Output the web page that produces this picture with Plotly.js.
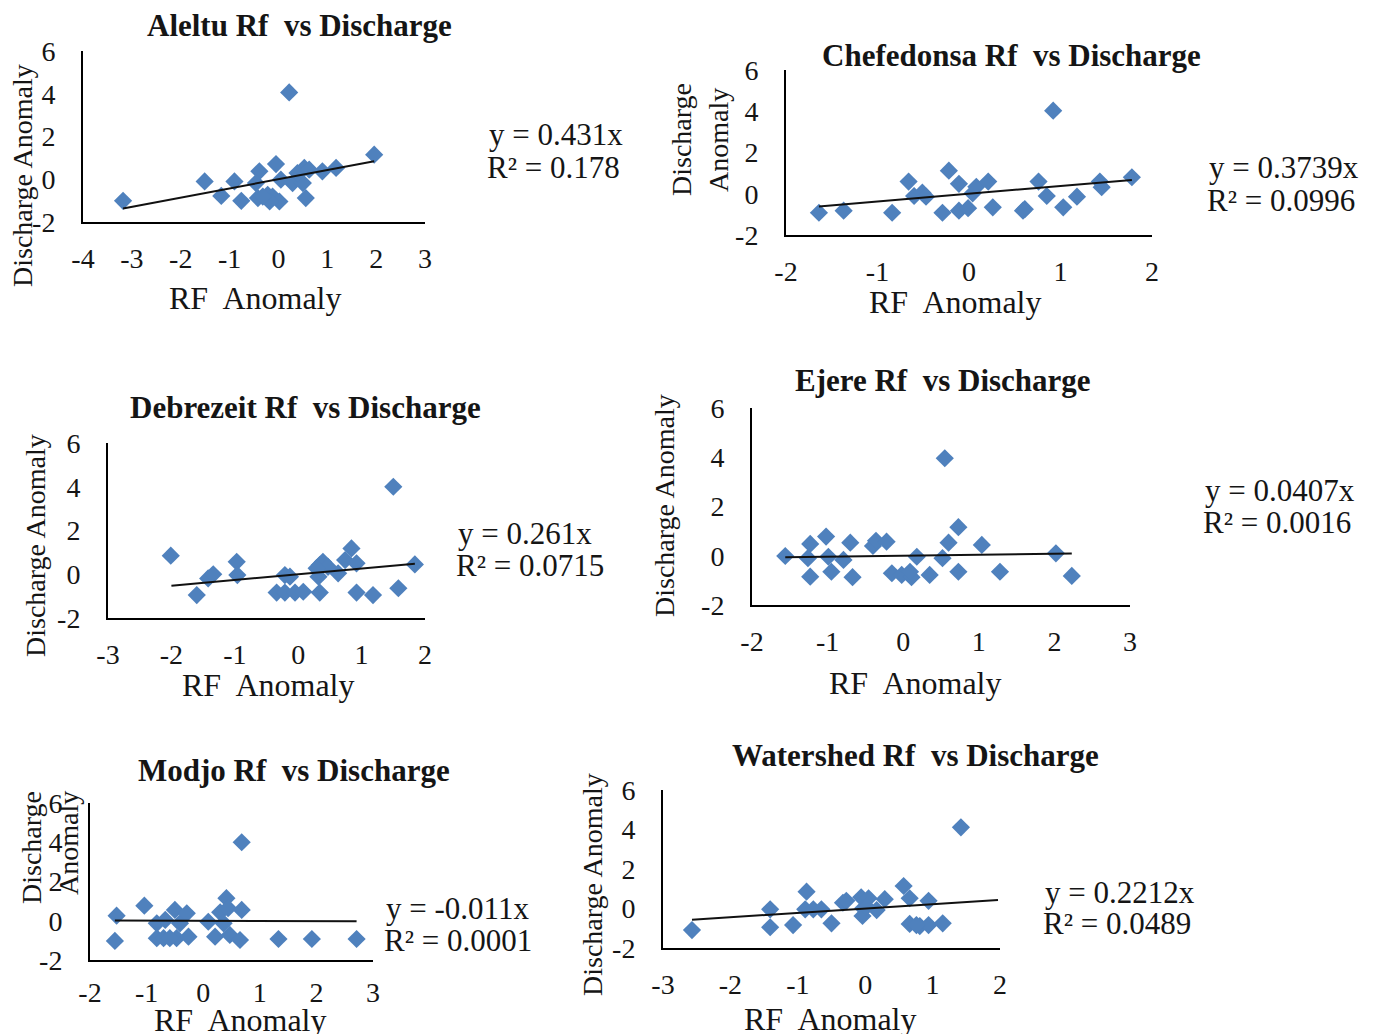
<!DOCTYPE html>
<html>
<head>
<meta charset="utf-8">
<script src="https://cdn.plot.ly/plotly-3.0.1.min.js"></script>
<style>html,body{margin:0;padding:0;background:#fff;}#chart{width:1384px;height:1034px;}</style>
</head>
<body>
<div id="chart"></div>
<script>
// ---- Data ----
var stationNames = ["Aleltu", "Chefedonsa", "Debrezeit", "Ejere", "Modjo", "Watershed"];

var aleltuX = [0.22, 1.96, -3.18, -1.51, -0.90, -1.17, -0.76, -0.39, -0.46, -0.05, -0.42, -0.22, -0.12, 0.02, 0.05, 0.29, 0.53, 0.50, 0.56, 0.39, 0.90, 1.18, -0.18, -0.32, 0.63];
var aleltuY = [4.06, 1.15, -1.01, -0.10, -0.10, -0.78, -1.01, 0.37, -0.18, 0.71, -0.88, -0.73, -0.81, -1.04, -0.02, -0.18, 0.53, -0.18, -0.88, 0.29, 0.37, 0.53, -1.04, -0.81, 0.45];

var chefX = [0.92, 1.78, -1.64, -1.37, -0.84, -0.66, -0.60, -0.51, -0.47, -0.22, -0.29, -0.11, -0.11, -0.01, 0.04, 0.08, 0.21, 0.26, 0.61, 0.76, 0.85, 1.03, 1.18, 1.43, 1.45, 0.59];
var chefY = [4.03, 0.80, -0.92, -0.82, -0.92, 0.59, -0.11, 0.05, -0.14, 1.12, -0.92, 0.48, -0.82, -0.70, 0.02, 0.34, 0.59, -0.66, -0.75, 0.59, -0.11, -0.66, -0.14, 0.59, 0.32, -0.82];

var debX = [1.50, 1.84, -2.01, -1.60, -1.42, -1.34, -0.97, -0.96, -0.34, -0.21, -0.13, -0.21, -0.05, 0.08, 0.34, 0.32, 0.34, 0.39, 0.47, 0.63, 0.74, 0.84, 0.92, 0.92, 1.18, 1.58, 0.29];
var debY = [4.0, 0.45, 0.85, -0.95, -0.19, 0.0, 0.57, -0.04, -0.84, -0.04, -0.11, -0.84, -0.84, -0.80, -0.84, -0.11, 0.42, 0.57, 0.34, 0.04, 0.65, 1.18, 0.50, -0.84, -0.95, -0.64, 0.27];

var ejereX = [0.55, 0.73, -1.56, -1.23, -1.26, -1.23, -1.02, -0.99, -0.95, -0.79, -0.70, -0.67, -0.40, -0.36, -0.22, -0.15, -0.02, 0.11, 0.09, 0.18, 0.35, 0.52, 0.60, 0.73, 1.04, 1.28, 2.02, 2.23];
var ejereY = [3.96, 1.16, -0.01, 0.48, -0.10, -0.85, 0.78, -0.04, -0.65, -0.17, 0.53, -0.87, 0.40, 0.61, 0.57, -0.71, -0.78, -0.87, -0.65, -0.04, -0.78, -0.10, 0.53, -0.65, 0.44, -0.65, 0.10, -0.82];

var modjoX = [0.68, -1.53, -1.56, -1.04, -0.82, -0.82, -0.67, -0.70, -0.50, -0.47, -0.41, -0.29, -0.26, 0.09, 0.21, 0.30, 0.41, 0.44, 0.47, 0.68, 0.65, 0.36, 1.33, 1.92, 2.71, -0.59];
var modjoY = [4.0, 0.26, -1.03, 0.77, -0.13, -0.89, 0.04, -0.89, 0.55, -0.89, -0.13, 0.38, -0.81, -0.05, -0.81, 0.43, 1.15, 0.64, -0.72, 0.55, -0.98, -0.13, -0.93, -0.93, -0.93, -0.89];

var wsX = [1.42, -2.57, -1.41, -1.41, -1.07, -0.87, -0.89, -0.77, -0.65, -0.50, -0.33, -0.28, -0.06, -0.03, -0.04, 0.05, 0.17, 0.29, 0.57, 0.66, 0.66, 0.81, 0.94, 0.94, 1.15, 0.02, 0.76];
var wsY = [4.11, -1.09, -0.04, -0.95, -0.84, 0.85, -0.04, -0.04, -0.04, -0.75, 0.29, 0.39, 0.57, 0.01, -0.38, 0.52, -0.08, 0.47, 1.14, 0.52, -0.78, -0.89, 0.39, -0.84, -0.75, 0.09, -0.84];

// trendline slopes (through origin) and x-extent
var slopes = [0.431, 0.3739, 0.261, 0.0407, -0.011, 0.2212];
var trendStart = [-3.18, -1.64, -2.0, -1.56, -1.56, -2.57];
var trendEnd = [1.96, 1.78, 1.84, 2.23, 2.71, 1.97];
var eqLabels = ["y = 0.431x", "y = 0.3739x", "y = 0.261x", "y = 0.0407x", "y = -0.011x", "y = 0.2212x"];
var r2Labels = ["R\u00b2 = 0.178", "R\u00b2 = 0.0996", "R\u00b2 = 0.0715", "R\u00b2 = 0.0016", "R\u00b2 = 0.0001", "R\u00b2 = 0.0489"];

// tick labels
var xTickVals = [
  [-4, -3, -2, -1, 0, 1, 2, 3],
  [-2, -1, 0, 1, 2],
  [-3, -2, -1, 0, 1, 2],
  [-2, -1, 0, 1, 2, 3],
  [-2, -1, 0, 1, 2, 3],
  [-3, -2, -1, 0, 1, 2]
];
var yTickVals = [-2, 0, 2, 4, 6];

var seriesX = [aleltuX, chefX, debX, ejereX, modjoX, wsX];
var seriesY = [aleltuY, chefY, debY, ejereY, modjoY, wsY];

// ---- Layout geometry (pixels) ----
var W = 1384, H = 1034;
// [left, right, top, bottom] of each plot area
var boxes = [
  [83, 425, 51, 222],
  [786, 1152, 70, 235],
  [108, 425, 443, 618],
  [752, 1130, 408, 605],
  [90, 373, 803, 960],
  [663, 1000, 790, 948]
];
var xTickStandoff = [10, 10, 10, 10, 6, 10];
var titlePos = [[299, 25], [1011, 55], [305, 408], [943, 380], [294, 770], [915, 755]];
var xTitlePos = [[255, 298], [955, 302], [268, 685], [915, 683], [240, 1020], [830, 1019]];
// y titles: array of [text, x, y]
var yTitles = [
  [["Discharge Anomaly", 22, 176]],
  [["Discharge", 681, 140], ["Anomaly", 718, 140]],
  [["Discharge Anomaly", 35, 546]],
  [["Discharge Anomaly", 665, 506]],
  [["Discharge", 31, 848], ["Anomaly", 68, 843]],
  [["Discharge Anomaly", 592, 885]]
];
var eqPos = [[487, 135, 167], [1207, 167, 200], [456, 533, 565], [1203, 490, 522], [384, 908, 940], [1043, 892, 923]];

var FONT = "Liberation Serif, Times New Roman, serif";
var TXT = "#151515";
var traces = [];
var layout = {
  width: W, height: H,
  margin: {l: 0, r: 0, t: 0, b: 0},
  paper_bgcolor: "#ffffff", plot_bgcolor: "#ffffff",
  showlegend: false,
  annotations: []
};

function px(x) { return x / W; }
function py(y) { return 1 - y / H; }

for (var i = 0; i < 6; i++) {
  var sfx = i === 0 ? "" : String(i + 1);
  var b = boxes[i];
  traces.push({
    type: "scatter", mode: "markers",
    x: seriesX[i], y: seriesY[i],
    xaxis: "x" + sfx, yaxis: "y" + sfx,
    marker: {symbol: "diamond", size: 14, color: "#4f81bd"},
    name: stationNames[i], cliponaxis: false
  });
  traces.push({
    type: "scatter", mode: "lines",
    x: [trendStart[i], trendEnd[i]],
    y: [slopes[i] * trendStart[i], slopes[i] * trendEnd[i]],
    xaxis: "x" + sfx, yaxis: "y" + sfx,
    line: {color: "#111111", width: 2},
    name: stationNames[i] + " trend"
  });
  layout["xaxis" + sfx] = {
    domain: [px(b[0]), px(b[1])],
    range: [xTickVals[i][0], xTickVals[i][xTickVals[i].length - 1]],
    tickmode: "array", tickvals: xTickVals[i], ticktext: xTickVals[i].map(String),
    anchor: "y" + sfx,
    showgrid: false, zeroline: false,
    showline: true, linecolor: "#000000", linewidth: 2,
    ticks: "", ticklabelstandoff: xTickStandoff[i],
    tickfont: {family: FONT, size: 28, color: TXT}
  };
  layout["yaxis" + sfx] = {
    domain: [py(b[3]), py(b[2])],
    range: [yTickVals[0], yTickVals[yTickVals.length - 1]],
    tickmode: "array", tickvals: yTickVals, ticktext: yTickVals.map(String),
    anchor: "x" + sfx,
    showgrid: false, zeroline: false,
    showline: true, linecolor: "#000000", linewidth: 2,
    ticks: "", ticklabelstandoff: 20,
    tickfont: {family: FONT, size: 28, color: TXT}
  };
  // chart title
  layout.annotations.push({
    text: "<b>" + stationNames[i] + " Rf  vs Discharge</b>",
    xref: "paper", yref: "paper", x: px(titlePos[i][0]), y: py(titlePos[i][1]),
    xanchor: "center", yanchor: "middle", showarrow: false,
    font: {family: FONT, size: 31, color: TXT}
  });
  // x title
  layout.annotations.push({
    text: "RF  Anomaly",
    xref: "paper", yref: "paper", x: px(xTitlePos[i][0]), y: py(xTitlePos[i][1]),
    xanchor: "center", yanchor: "middle", showarrow: false,
    font: {family: FONT, size: 32, color: TXT}
  });
  // y title(s)
  yTitles[i].forEach(function (t) {
    layout.annotations.push({
      text: t[0], textangle: -90,
      xref: "paper", yref: "paper", x: px(t[1]), y: py(t[2]),
      xanchor: "center", yanchor: "middle", showarrow: false,
      font: {family: FONT, size: 28, color: TXT}
    });
  });
  // equation labels
  layout.annotations.push({
    text: eqLabels[i],
    xref: "paper", yref: "paper", x: px(eqPos[i][0]), y: py(eqPos[i][1]),
    xanchor: "left", yanchor: "middle", showarrow: false,
    font: {family: FONT, size: 31, color: TXT}
  });
  layout.annotations.push({
    text: r2Labels[i],
    xref: "paper", yref: "paper", x: px(eqPos[i][0] - 2), y: py(eqPos[i][2]),
    xanchor: "left", yanchor: "middle", showarrow: false,
    font: {family: FONT, size: 31, color: TXT}
  });
}

Plotly.newPlot("chart", traces, layout, {staticPlot: true, displayModeBar: false});
</script>
</body>
</html>
